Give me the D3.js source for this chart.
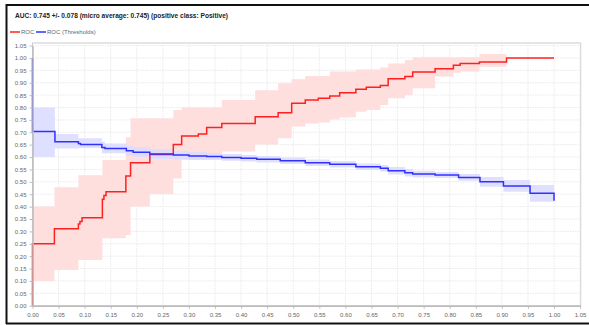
<!DOCTYPE html>
<html><head><meta charset="utf-8">
<script src="https://cdn.jsdelivr.net/npm/d3@7"></script>
<style>body{margin:0;background:#fff}svg{display:block}</style>
</head><body>
<svg id="c" width="589" height="325"></svg>
<script>
const title = "AUC: 0.745 +/- 0.078 (micro average: 0.745) (positive class: Positive)";
const seriesNames = ["ROC", "ROC (Thresholds)"];
const tickValues = d3.range(0, 22).map(i => i * 0.05);

// ROC (mean) with band
const rocX     = [0,    0,    0.042, 0.088, 0.091, 0.095, 0.134, 0.137, 0.141, 0.179, 0.188, 0.225, 0.270, 0.286, 0.318, 0.334, 0.363, 0.427, 0.471, 0.497, 0.523, 0.548, 0.570, 0.589, 0.620, 0.640, 0.667, 0.682, 0.714, 0.729, 0.772, 0.807, 0.820, 0.857, 0.909, 1.000];
const rocY     = [0,    0.25, 0.311, 0.330, 0.340, 0.355, 0.430, 0.445, 0.460, 0.524, 0.577, 0.610, 0.651, 0.685, 0.693, 0.719, 0.736, 0.763, 0.779, 0.817, 0.830, 0.837, 0.847, 0.860, 0.874, 0.882, 0.889, 0.916, 0.925, 0.943, 0.957, 0.971, 0.978, 0.984, 1.000, 1.000];
const rocUpper = [0.40, 0.40, 0.478, 0.527, 0.527, 0.527, 0.588, 0.588, 0.588, 0.680, 0.757, 0.757, 0.790, 0.800, 0.800, 0.800, 0.830, 0.870, 0.898, 0.914, 0.927, 0.927, 0.945, 0.945, 0.954, 0.954, 0.962, 0.978, 0.992, 1.003, 1.003, 1.003, 1.003, 1.016, 1.000, 1.000];
const rocLower = [0.10, 0.10, 0.144, 0.184, 0.184, 0.184, 0.272, 0.272, 0.272, 0.285, 0.400, 0.451, 0.514, 0.590, 0.590, 0.600, 0.622, 0.651, 0.676, 0.723, 0.736, 0.740, 0.752, 0.760, 0.783, 0.790, 0.810, 0.837, 0.851, 0.878, 0.925, 0.940, 0.945, 0.965, 1.000, 1.000];

// ROC (Thresholds) with band
const thrX     = [0,    0,    0.043, 0.088, 0.092, 0.133, 0.139, 0.180, 0.193, 0.225, 0.270, 0.300, 0.334, 0.363, 0.400, 0.430, 0.475, 0.523, 0.570, 0.620, 0.667, 0.682, 0.714, 0.729, 0.772, 0.817, 0.858, 0.903, 0.954, 1.000];
const thrY     = [1.00, 0.703, 0.662, 0.655, 0.651, 0.639, 0.635, 0.626, 0.619, 0.612, 0.608, 0.604, 0.602, 0.598, 0.595, 0.591, 0.585, 0.577, 0.571, 0.561, 0.555, 0.545, 0.537, 0.532, 0.528, 0.518, 0.500, 0.483, 0.454, 0.424];
const thrUpper = [0.80, 0.80, 0.693, 0.676, 0.676, 0.662, 0.655, 0.645, 0.640, 0.632, 0.625, 0.620, 0.615, 0.612, 0.608, 0.604, 0.598, 0.590, 0.584, 0.574, 0.568, 0.560, 0.552, 0.545, 0.540, 0.532, 0.520, 0.507, 0.487, 0.487];
const thrLower = [0.60, 0.60, 0.635, 0.637, 0.637, 0.615, 0.615, 0.605, 0.600, 0.592, 0.590, 0.588, 0.588, 0.585, 0.582, 0.578, 0.572, 0.564, 0.558, 0.548, 0.542, 0.530, 0.522, 0.518, 0.516, 0.504, 0.480, 0.460, 0.420, 0.420];

const svg = d3.select("#c");
const font = "'Liberation Sans', Arial, sans-serif";
const x = d3.scaleLinear().domain([0, 1.05]).range([32.5, 580.1]);
const y = d3.scaleLinear().domain([0, 1.05]).range([305.7, 45.6]);

// outer frame
svg.append("line").attr("x1", 6).attr("x2", 589).attr("y1", 5).attr("y2", 5).attr("stroke", "#111").attr("stroke-width", 2);
svg.append("line").attr("x1", 6.5).attr("x2", 6.5).attr("y1", 4).attr("y2", 324).attr("stroke", "#111").attr("stroke-width", 2);
svg.append("line").attr("x1", 6).attr("x2", 589).attr("y1", 323.5).attr("y2", 323.5).attr("stroke", "#111").attr("stroke-width", 2);

// title
svg.append("text").attr("x", 15).attr("y", 17.5).attr("font-family", font).attr("font-weight", "bold")
  .attr("font-size", 7).attr("fill", "#222").attr("textLength", 213).attr("lengthAdjust", "spacingAndGlyphs").text(title);

// legend
const legColors = ["#ff2020", "#3030ff"];
const legX = [10, 36];
seriesNames.forEach((n, i) => {
  svg.append("line").attr("x1", legX[i]).attr("x2", legX[i] + 10).attr("y1", 32).attr("y2", 32)
    .attr("stroke", legColors[i]).attr("stroke-width", 1.5);
  svg.append("text").attr("x", legX[i] + 11).attr("y", 34).attr("font-family", font)
    .attr("font-size", 6).attr("fill", "#666").text(n);
});

// plot border
svg.append("rect").attr("x", x(0)).attr("y", 43).attr("width", x(1.05) - x(0) + 0.6).attr("height", y(0) - 43)
  .attr("fill", "none").attr("stroke", "#ccc").attr("stroke-width", 1);

// grid
const g = svg.append("g");
g.selectAll(".vg").data(tickValues.slice(1)).join("line")
  .attr("x1", d => x(d)).attr("x2", d => x(d)).attr("y1", 43).attr("y2", y(0))
  .attr("stroke", "#e4e4e4").attr("stroke-width", 0.8).attr("stroke-dasharray", "1.5,1");
g.selectAll(".hg").data(tickValues.slice(1)).join("line")
  .attr("x1", x(0)).attr("x2", x(1.05)).attr("y1", d => y(d)).attr("y2", d => y(d))
  .attr("stroke", "#e4e4e4").attr("stroke-width", 0.8).attr("stroke-dasharray", "1.5,1");

function pts(xs, ys) { return xs.map((v, i) => [v, ys[i]]); }
const area = d3.area().x(d => x(d[0])).y0(d => y(d[1])).y1(d => y(d[2])).curve(d3.curveStepAfter);
const line = d3.line().x(d => x(d[0])).y(d => y(d[1])).curve(d3.curveStepAfter);

svg.append("path").datum(rocX.map((v, i) => [v, rocLower[i], rocUpper[i]]).slice(1))
  .attr("d", area).attr("fill", "#ffdede");
svg.append("path").datum(thrX.map((v, i) => [v, thrLower[i], thrUpper[i]]).slice(1))
  .attr("d", area).attr("fill", "#dcdcff").attr("fill-opacity", 0.9);

svg.append("path").datum(pts(rocX, rocY)).attr("d", line).attr("fill", "none")
  .attr("stroke", "#ff2020").attr("stroke-width", 1.5);
svg.append("path").datum(pts(thrX, thrY)).attr("d", line).attr("fill", "none")
  .attr("stroke", "#3030ff").attr("stroke-width", 1.5);

// axes
const xa = svg.append("g").attr("transform", `translate(0,${y(0)})`)
  .call(d3.axisBottom(x).tickValues(tickValues).tickFormat(d3.format(".2f")).tickSize(3).tickSizeOuter(0));
const ya = svg.append("g").attr("transform", `translate(${x(0)},0)`)
  .call(d3.axisLeft(y).tickValues(tickValues).tickFormat(d3.format(".2f")).tickSize(3).tickSizeOuter(0));
[xa, ya].forEach(a => {
  a.selectAll("text").attr("font-family", font).attr("font-size", 6).attr("fill", "#666");
  a.selectAll(".tick line").attr("stroke", "#bbb");
  a.select(".domain").attr("stroke", "#bbb").attr("stroke-width", 1.5);
});
xa.selectAll("text").attr("dy", "0.9em");
ya.selectAll("text").attr("x", -6);
</script>
</body></html>
